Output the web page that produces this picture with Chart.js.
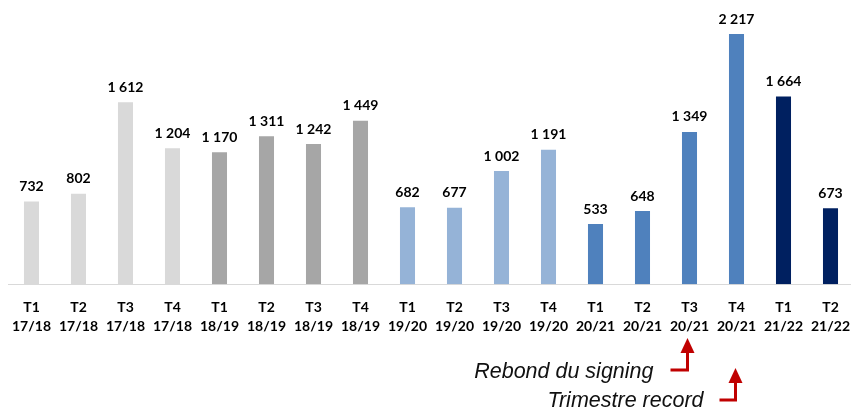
<!DOCTYPE html>
<html>
<head>
<meta charset="utf-8">
<script src="https://cdn.jsdelivr.net/npm/chart.js@4"></script>
<style>
  html, body { margin: 0; padding: 0; background: #fff; overflow: hidden; }
  #wrap { width: 856px; height: 410px; }
</style>
</head>
<body>
<div id="wrap"><canvas id="myChart" width="856" height="410"></canvas></div>
<script>
// trimestres
const quarters = ['T1','T2','T3','T4','T1','T2','T3','T4','T1','T2','T3','T4','T1','T2','T3','T4','T1','T2'];
const seasons = ['17/18','17/18','17/18','17/18','18/19','18/19','18/19','18/19','19/20','19/20','19/20','19/20','20/21','20/21','20/21','20/21','21/22','21/22'];
// valeurs
const values = [732, 802, 1612, 1204, 1170, 1311, 1242, 1449, 682, 677, 1002, 1191, 533, 648, 1349, 2217, 1664, 673];
// couleur par saison
const seasonColors = {
  '17/18': '#D9D9D9',
  '18/19': '#A6A6A6',
  '19/20': '#95B3D7',
  '20/21': '#4F81BD',
  '21/22': '#002060'
};

const labels = quarters.map((q, i) => [q, seasons[i]]);

// format "1 612"
function fmt(v) {
  return String(v).replace(/\B(?=(\d{3})+(?!\d))/g, ' ');
}

// étiquettes au-dessus des barres + flèches
const extras = {
  id: 'extras',
  afterDatasetsDraw(chart) {
    const ctx = chart.ctx;
    const meta = chart.getDatasetMeta(0);
    ctx.save();
    ctx.fillStyle = '#000';
    ctx.font = 'bold 14px Lato';
    ctx.textAlign = 'center';
    ctx.textBaseline = 'middle';
    meta.data.forEach((bar, i) => {
      ctx.fillText(fmt(values[i]), bar.x, bar.y - 15);
    });
    ctx.restore();
  },
  afterDraw(chart) {
    const ctx = chart.ctx;
    const x = chart.scales.x;
    const a1 = x.getPixelForValue(14) - 2;
    const a2 = x.getPixelForValue(15) - 1;
    ctx.save();
    // texte
    ctx.fillStyle = '#111';
    ctx.font = 'italic 21.5px "Liberation Sans"';
    ctx.textAlign = 'right';
    ctx.textBaseline = 'middle';
    ctx.fillText('Rebond du signing', a1 - 34, 372);
    ctx.fillText('Trimestre record', a2 - 32, 401);
    // flèches
    const arrow = (ax, yBase, hx) => {
      ctx.strokeStyle = '#C00000';
      ctx.fillStyle = '#C00000';
      ctx.lineWidth = 3;
      ctx.beginPath();
      ctx.moveTo(hx, yBase);
      ctx.lineTo(ax, yBase);
      ctx.lineTo(ax, yBase - 17);
      ctx.stroke();
      ctx.beginPath();
      ctx.moveTo(ax - 7, yBase - 17);
      ctx.lineTo(ax + 7, yBase - 17);
      ctx.lineTo(ax, yBase - 32);
      ctx.closePath();
      ctx.fill();
    };
    arrow(a1, 370, a1 - 17);
    arrow(a2, 400, a2 - 16);
    ctx.restore();
  }
};

const data = {
  labels: labels,
  datasets: [{
    data: values,
    backgroundColor: seasons.map(s => seasonColors[s]),
    barPercentage: 0.32,
    categoryPercentage: 1
  }]
};

const config = {
  type: 'bar',
  data: data,
  options: {
    responsive: false,
    animation: false,
    layout: { padding: { left: 8, right: 0, top: 20, bottom: 68 } },
    plugins: { legend: { display: false }, tooltip: { enabled: false } },
    scales: {
      x: {
        grid: { display: false },
        border: { display: true, color: '#D9D9D9', width: 1 },
        ticks: {
          color: '#000',
          font: { family: 'Lato', weight: 'bold', size: 14, lineHeight: 1.35 },
          padding: 6,
          maxRotation: 0,
          autoSkip: false
        }
      },
      y: {
        display: false,
        min: 0,
        max: 2341
      }
    }
  },
  plugins: [extras]
};

const myChart = new Chart(document.getElementById('myChart'), config);
</script>
</body>
</html>
